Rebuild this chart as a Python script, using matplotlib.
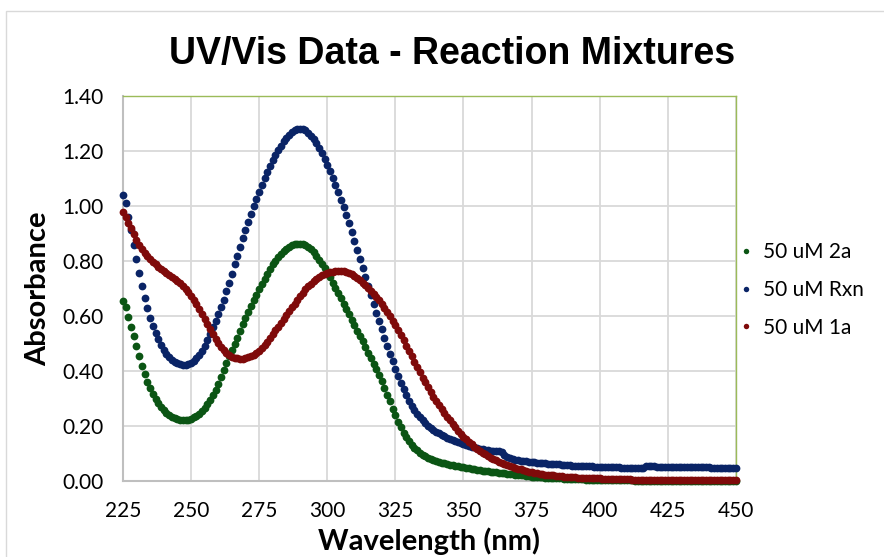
import numpy as np
import matplotlib
matplotlib.use("Agg")
import matplotlib.pyplot as plt
from matplotlib.patches import Rectangle

# Wavelengths, one reading per nm
wavelength = np.arange(225, 451)

# 50 uM 2a
abs_2a = [
    0.655, 0.634, 0.598, 0.561, 0.527, 0.490, 0.455, 0.420, 0.390, 0.362,  # 225
    0.339, 0.318, 0.300, 0.284, 0.270, 0.258, 0.248, 0.240, 0.234, 0.229,  # 235
    0.226, 0.224, 0.223, 0.223, 0.224, 0.227, 0.232, 0.238, 0.246, 0.256,  # 245
    0.267, 0.280, 0.295, 0.313, 0.333, 0.355, 0.380, 0.405, 0.430, 0.455,  # 255
    0.478, 0.500, 0.522, 0.546, 0.570, 0.594, 0.616, 0.637, 0.658, 0.678,  # 265
    0.697, 0.716, 0.736, 0.755, 0.772, 0.788, 0.802, 0.815, 0.827, 0.837,  # 275
    0.845, 0.852, 0.857, 0.861, 0.863, 0.864, 0.862, 0.858, 0.852, 0.843,  # 285
    0.832, 0.820, 0.806, 0.791, 0.776, 0.760, 0.741, 0.722, 0.703, 0.685,  # 295
    0.665, 0.646, 0.627, 0.607, 0.587, 0.567, 0.547, 0.528, 0.508, 0.488,  # 305
    0.467, 0.447, 0.427, 0.408, 0.388, 0.365, 0.340, 0.315, 0.290, 0.264,  # 315
    0.240, 0.217, 0.196, 0.177, 0.160, 0.145, 0.133, 0.122, 0.112, 0.104,  # 325
    0.097, 0.091, 0.086, 0.081, 0.077, 0.074, 0.071, 0.068, 0.065, 0.063,  # 335
    0.060, 0.058, 0.056, 0.054, 0.052, 0.050, 0.048, 0.047, 0.045, 0.044,  # 345
    0.042, 0.041, 0.039, 0.038, 0.037, 0.035, 0.034, 0.033, 0.031, 0.030,  # 355
    0.029, 0.028, 0.027, 0.025, 0.024, 0.023, 0.022, 0.021, 0.020, 0.018,  # 365
    0.017, 0.016, 0.015, 0.015, 0.014, 0.013, 0.012, 0.012, 0.011, 0.011,  # 375
    0.010, 0.010, 0.009, 0.009, 0.008, 0.008, 0.008, 0.007, 0.007, 0.007,  # 385
    0.006, 0.006, 0.006, 0.005, 0.005, 0.005, 0.005, 0.004, 0.004, 0.004,  # 395
    0.004, 0.004, 0.003, 0.003, 0.003, 0.003, 0.003, 0.003, 0.002, 0.002,  # 405
    0.002, 0.002, 0.002, 0.002, 0.002, 0.002, 0.002, 0.002, 0.002, 0.002,  # 415
    0.002, 0.001, 0.001, 0.001, 0.001, 0.001, 0.001, 0.001, 0.001, 0.001,  # 425
    0.001, 0.001, 0.001, 0.001, 0.001, 0.001, 0.001, 0.001, 0.001, 0.001,  # 435
    0.001, 0.001, 0.000, 0.000, 0.000, 0.000,                              # 445
]

# 50 uM Rxn
abs_rxn = [
    1.040, 1.012, 0.962, 0.913, 0.860, 0.808, 0.757, 0.708, 0.665, 0.628,  # 225
    0.595, 0.566, 0.540, 0.516, 0.496, 0.478, 0.463, 0.451, 0.441, 0.434,  # 235
    0.428, 0.425, 0.423, 0.423, 0.425, 0.429, 0.437, 0.447, 0.459, 0.474,  # 245
    0.493, 0.515, 0.537, 0.560, 0.583, 0.607, 0.632, 0.660, 0.690, 0.722,  # 255
    0.755, 0.788, 0.820, 0.852, 0.883, 0.913, 0.943, 0.972, 1.000, 1.027,  # 265
    1.053, 1.078, 1.102, 1.125, 1.147, 1.167, 1.186, 1.204, 1.220, 1.235,  # 275
    1.248, 1.259, 1.268, 1.275, 1.280, 1.282, 1.280, 1.275, 1.267, 1.256,  # 285
    1.243, 1.228, 1.211, 1.192, 1.171, 1.149, 1.126, 1.102, 1.077, 1.051,  # 295
    1.024, 0.996, 0.967, 0.937, 0.906, 0.874, 0.842, 0.809, 0.776, 0.743,  # 305
    0.710, 0.677, 0.645, 0.613, 0.582, 0.552, 0.522, 0.493, 0.464, 0.436,  # 315
    0.409, 0.383, 0.358, 0.335, 0.313, 0.293, 0.275, 0.259, 0.245, 0.232,  # 325
    0.221, 0.211, 0.202, 0.194, 0.187, 0.180, 0.174, 0.168, 0.163, 0.158,  # 335
    0.153, 0.149, 0.145, 0.141, 0.138, 0.135, 0.132, 0.129, 0.126, 0.124,  # 345
    0.121, 0.119, 0.117, 0.115, 0.113, 0.111, 0.110, 0.109, 0.109, 0.108,  # 355
    0.094, 0.088, 0.084, 0.081, 0.079, 0.077, 0.075, 0.074, 0.072, 0.071,  # 365
    0.070, 0.069, 0.068, 0.067, 0.066, 0.065, 0.064, 0.063, 0.062, 0.062,  # 375
    0.061, 0.060, 0.059, 0.059, 0.058, 0.057, 0.057, 0.056, 0.056, 0.055,  # 385
    0.055, 0.054, 0.054, 0.053, 0.053, 0.052, 0.052, 0.052, 0.051, 0.051,  # 395
    0.050, 0.050, 0.050, 0.049, 0.049, 0.049, 0.048, 0.048, 0.048, 0.048,  # 405
    0.047, 0.047, 0.054, 0.054, 0.054, 0.054, 0.053, 0.053, 0.053, 0.053,  # 415
    0.053, 0.052, 0.052, 0.052, 0.052, 0.052, 0.051, 0.051, 0.051, 0.051,  # 425
    0.051, 0.050, 0.050, 0.050, 0.050, 0.050, 0.049, 0.049, 0.049, 0.049,  # 435
    0.049, 0.048, 0.048, 0.048, 0.048, 0.048,                              # 445
]

# 50 uM 1a
abs_1a = [
    0.979, 0.960, 0.940, 0.920, 0.898, 0.878, 0.860, 0.845, 0.831, 0.819,  # 225
    0.808, 0.798, 0.789, 0.780, 0.772, 0.764, 0.756, 0.748, 0.741, 0.734,  # 235
    0.727, 0.719, 0.710, 0.700, 0.688, 0.675, 0.660, 0.643, 0.625, 0.607,  # 245
    0.589, 0.571, 0.553, 0.535, 0.518, 0.502, 0.488, 0.476, 0.466, 0.459,  # 255
    0.453, 0.449, 0.447, 0.446, 0.446, 0.447, 0.450, 0.454, 0.459, 0.466,  # 265
    0.474, 0.484, 0.495, 0.507, 0.520, 0.534, 0.548, 0.562, 0.576, 0.590,  # 275
    0.604, 0.618, 0.632, 0.646, 0.659, 0.672, 0.685, 0.697, 0.708, 0.718,  # 285
    0.727, 0.735, 0.742, 0.748, 0.753, 0.757, 0.760, 0.762, 0.763, 0.764,  # 295
    0.764, 0.763, 0.761, 0.757, 0.752, 0.746, 0.739, 0.731, 0.722, 0.712,  # 305
    0.702, 0.692, 0.681, 0.670, 0.658, 0.645, 0.631, 0.616, 0.600, 0.584,  # 315
    0.567, 0.549, 0.531, 0.512, 0.493, 0.474, 0.455, 0.435, 0.415, 0.396,  # 325
    0.377, 0.359, 0.341, 0.324, 0.307, 0.291, 0.276, 0.261, 0.247, 0.234,  # 335
    0.221, 0.208, 0.196, 0.184, 0.173, 0.162, 0.152, 0.143, 0.134, 0.126,  # 345
    0.118, 0.111, 0.104, 0.098, 0.092, 0.086, 0.081, 0.076, 0.071, 0.067,  # 355
    0.063, 0.059, 0.055, 0.052, 0.049, 0.046, 0.043, 0.040, 0.037, 0.035,  # 365
    0.033, 0.031, 0.029, 0.027, 0.026, 0.024, 0.023, 0.022, 0.021, 0.020,  # 375
    0.019, 0.018, 0.017, 0.016, 0.015, 0.015, 0.014, 0.013, 0.013, 0.012,  # 385
    0.012, 0.011, 0.011, 0.010, 0.010, 0.010, 0.009, 0.009, 0.009, 0.008,  # 395
    0.008, 0.008, 0.008, 0.007, 0.007, 0.007, 0.007, 0.006, 0.006, 0.006,  # 405
    0.006, 0.006, 0.006, 0.005, 0.005, 0.005, 0.005, 0.005, 0.005, 0.005,  # 415
    0.005, 0.005, 0.005, 0.004, 0.004, 0.004, 0.004, 0.004, 0.004, 0.004,  # 425
    0.004, 0.004, 0.004, 0.004, 0.004, 0.004, 0.004, 0.004, 0.004, 0.004,  # 435
    0.003, 0.003, 0.003, 0.003, 0.003, 0.003,                              # 445
]

series = [
    ("50 uM 2a", abs_2a, "#0B5514"),
    ("50 uM Rxn", abs_rxn, "#0A2466"),
    ("50 uM 1a", abs_1a, "#7F0A0A"),
]

x_ticks = [225, 250, 275, 300, 325, 350, 375, 400, 425, 450]
y_ticks = [0.0, 0.2, 0.4, 0.6, 0.8, 1.0, 1.2, 1.4]

fig = plt.figure(figsize=(8.84, 5.57), dpi=100)
ax = fig.add_axes([0.139, 0.136, 0.6935, 0.6915])

# outer chart border
fig.patches.append(Rectangle((6 / 884, -0.05), 1.2, 1 - 11 / 557 + 0.05,
                             transform=fig.transFigure, fill=False,
                             edgecolor="#D9D9D9", linewidth=1.0))

for label, values, color in series:
    ax.plot(wavelength, values, linestyle="none", marker="o", markersize=5.6,
            markeredgewidth=0, color=color, label=label, clip_on=False, zorder=3)

ax.set_xlim(225, 450)
ax.set_ylim(0, 1.4)
ax.set_xticks(x_ticks)
ax.set_yticks(y_ticks)
ax.set_yticklabels([f"{v:.2f}" for v in y_ticks])
ax.grid(True, color="#D9D9D9", linewidth=1.3)
ax.set_axisbelow(True)
ax.tick_params(length=0, labelsize=15, pad=14)
for lbl in ax.get_xticklabels() + ax.get_yticklabels():
    lbl.set_fontfamily("Lato")

for side in ["top", "right"]:
    ax.spines[side].set_color("#9BBB59")
    ax.spines[side].set_linewidth(1.0)
for side in ["left", "bottom"]:
    ax.spines[side].set_color("#BFBFBF")
    ax.spines[side].set_linewidth(1.5)

ax.set_xlabel("Wavelength (nm)", fontfamily="Lato", fontweight="bold",
              fontsize=21, labelpad=5)
ax.set_ylabel("Absorbance", fontfamily="Lato", fontweight="bold",
              fontsize=21, labelpad=8)

fig.text(452 / 884, 1 - 54 / 557, "UV/Vis Data - Reaction Mixtures",
         ha="center", va="center", fontfamily="Liberation Sans",
         fontweight="bold", fontsize=27)

leg = ax.legend(loc="center left", bbox_to_anchor=(740 / 884, 1 - 290 / 557),
                bbox_transform=fig.transFigure, frameon=False,
                prop={"family": "Lato", "size": 15}, handlelength=0.6,
                handletextpad=0.5, labelspacing=0.85, markerscale=0.7,
                borderpad=0, borderaxespad=0)

fig.savefig("out.png", dpi=100)
